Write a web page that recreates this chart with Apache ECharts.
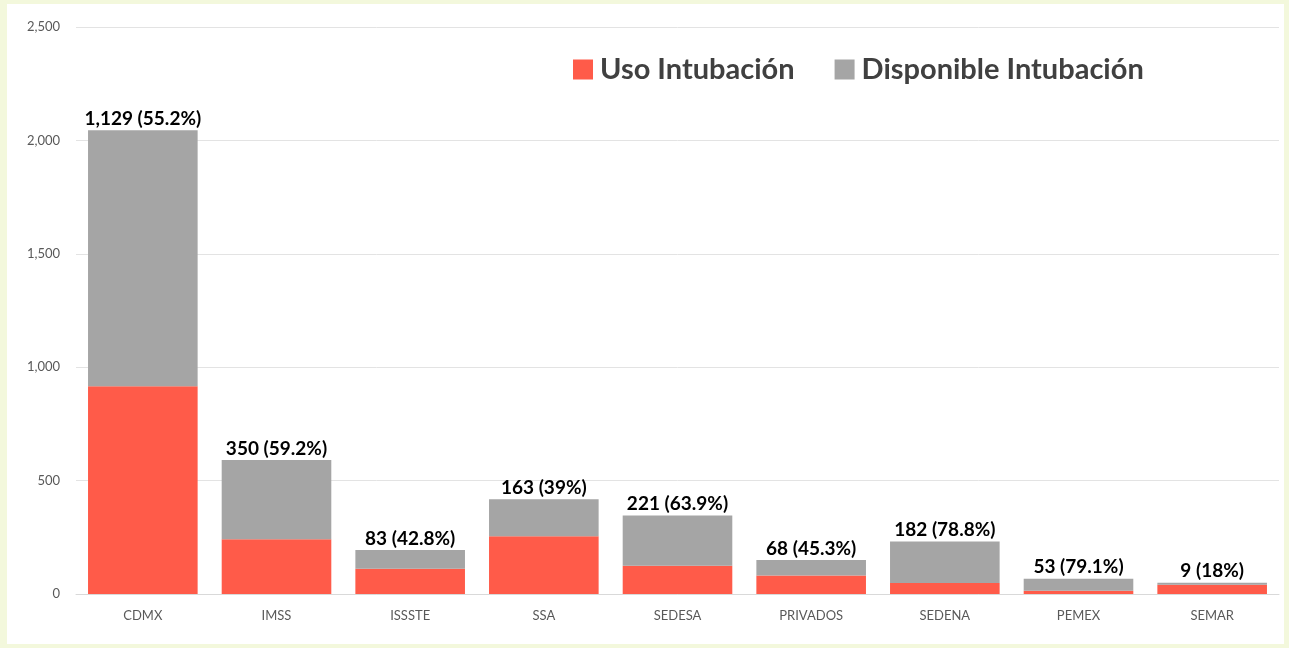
<!DOCTYPE html>
<html><head><meta charset="utf-8">
<script src="https://cdn.jsdelivr.net/npm/echarts@6/dist/echarts.min.js"></script>
<style>
html,body{margin:0;padding:0;background:#f3f8dc;}
#wrap{position:absolute;left:7px;top:4px;width:1277px;height:640px;background:#fff;}
#c{width:1289px;height:648px;position:absolute;left:0;top:0;}
</style></head>
<body><div id="wrap"></div><div id="c"></div>
<script>
const categories = ['CDMX','IMSS','ISSSTE','SSA','SEDESA','PRIVADOS','SEDENA','PEMEX','SEMAR'];
const usoIntubacion = [916, 241, 111, 255, 125, 82, 49, 14, 41];
const disponibleIntubacion = [1129, 350, 83, 163, 221, 68, 182, 53, 9];
const disponiblePct = ['55.2%','59.2%','42.8%','39%','63.9%','45.3%','78.8%','79.1%','18%'];
const yTicks = [0, 500, 1000, 1500, 2000, 2500];

const chart = echarts.init(document.getElementById('c'), null, {renderer:'canvas'});
const fmtNum = v => v.toLocaleString('en-US');
chart.setOption({
  backgroundColor: 'transparent',
  animation: false,
  textStyle: {fontFamily: 'Lato'},
  legend: {
    left: 568, top: 50, itemWidth: 20, itemHeight: 20, itemGap: 40,
    icon: 'rect',
    textStyle: {fontSize: 29, fontWeight: 'bold', color: '#404040', fontFamily: 'Lato', padding: [0,0,0,2]},
    data: ['Uso Intubación','Disponible Intubación']
  },
  grid: {left: 76, right: 10, top: 27, bottom: 54, containLabel: false},
  xAxis: {
    type: 'category', data: categories,
    axisLine: {lineStyle: {color: '#d9d9d9'}},
    axisTick: {show: false},
    axisLabel: {color: '#595959', fontSize: 13, margin: 15, fontFamily: 'Lato'}
  },
  yAxis: {
    type: 'value', min: yTicks[0], max: yTicks[yTicks.length-1], interval: 500,
    axisLine: {show: false}, axisTick: {show: false},
    splitLine: {lineStyle: {color: '#e3e3e3'}},
    axisLabel: {color: '#595959', fontSize: 13, margin: 16, formatter: v => fmtNum(v), fontFamily: 'Lato'}
  },
  series: [
    {name: 'Uso Intubación', type: 'bar', stack: 't', data: usoIntubacion,
     barCategoryGap: '18%', itemStyle: {color: '#FF5B49'}},
    {name: 'Disponible Intubación', type: 'bar', stack: 't', data: disponibleIntubacion,
     itemStyle: {color: '#A5A5A5'},
     label: {show: true, position: 'top', distance: 2, color: '#000', fontWeight: 'bold', fontSize: 19, fontFamily: 'Lato',
       formatter: p => fmtNum(disponibleIntubacion[p.dataIndex]) + ' (' + disponiblePct[p.dataIndex] + ')'}}
  ]
});
</script></body></html>
